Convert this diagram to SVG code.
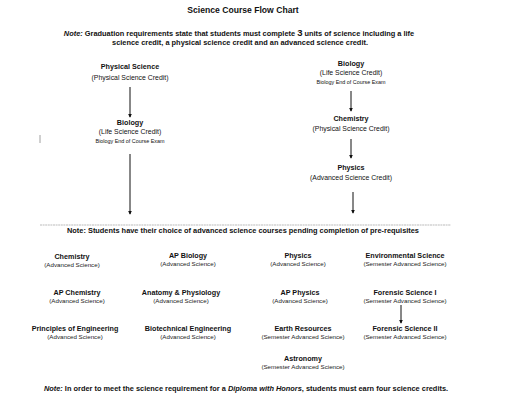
<svg xmlns="http://www.w3.org/2000/svg" width="512" height="413" viewBox="0 0 512 413">
<style>
text{font-family:"Liberation Sans",Arial,sans-serif;fill:#111;text-anchor:middle}
.t{font-size:8.6px;font-weight:bold}
.n{font-size:7.4px;font-weight:bold}
.b{font-size:7.2px;font-weight:bold}
.r{font-size:6.9px}
.s{font-size:5.4px}
.a{font-size:6.2px;fill:#222}
.c line{stroke:#111;stroke-width:1;marker-end:url(#ah)}
</style>
<defs>
<marker id="ah" viewBox="0 0 6 6" refX="5" refY="3" markerWidth="4" markerHeight="4" orient="auto" markerUnits="userSpaceOnUse"><path d="M0,0L6,3L0,6z" fill="#111"/></marker>
</defs>
<rect width="512" height="413" fill="#fff"/>
<text class="t" x="243" y="13">Science Course Flow Chart</text>
<text class="n" x="239" y="36"><tspan font-style="italic">Note:</tspan> Graduation requirements state that students must complete <tspan font-size="9.5px">3</tspan> units of science including a life</text>
<text class="n" x="240" y="45">science credit, a physical science credit and an advanced science credit.</text>

<g id="n-physci"><text class="b" x="130" y="69">Physical Science</text><text class="r" x="130" y="80">(Physical Science Credit)</text></g>
<g id="n-bio-l"><text class="b" x="130" y="125">Biology</text><text class="r" x="130" y="134">(Life Science Credit)</text><text class="s" x="130" y="143">Biology End of Course Exam</text></g>
<g id="n-bio-r"><text class="b" x="351" y="66">Biology</text><text class="r" x="351" y="75">(Life Science Credit)</text><text class="s" x="351" y="84">Biology End of Course Exam</text></g>
<g id="n-chem"><text class="b" x="351" y="121">Chemistry</text><text class="r" x="351" y="131">(Physical Science Credit)</text></g>
<g id="n-phys"><text class="b" x="351" y="170">Physics</text><text class="r" x="351" y="180">(Advanced Science Credit)</text></g>

<line x1="40" y1="135" x2="40" y2="143" stroke="#888" stroke-width="0.8"/>
<line x1="40" y1="225" x2="451" y2="225" stroke="#bbb" stroke-width="1" stroke-dasharray="2,0.6"/>
<text class="n" x="243" y="233">Note: Students have their choice of advanced science courses pending completion of pre-requisites</text>

<g id="n-chem2"><text class="b" x="72" y="259">Chemistry</text><text class="a" x="72" y="267">(Advanced Science)</text></g>
<g id="n-apbio"><text class="b" x="188" y="258">AP Biology</text><text class="a" x="188" y="266">(Advanced Science)</text></g>
<g id="n-phys2"><text class="b" x="298" y="258">Physics</text><text class="a" x="298" y="266">(Advanced Science)</text></g>
<g id="n-env"><text class="b" x="405" y="258">Environmental Science</text><text class="a" x="405" y="266">(Semester Advanced Science)</text></g>

<g id="n-apchem"><text class="b" x="77" y="295">AP Chemistry</text><text class="a" x="77" y="303">(Advanced Science)</text></g>
<g id="n-anat"><text class="b" x="181" y="295">Anatomy &amp; Physiology</text><text class="a" x="181" y="303">(Advanced Science)</text></g>
<g id="n-apphys"><text class="b" x="300" y="295">AP Physics</text><text class="a" x="300" y="303">(Advanced Science)</text></g>
<g id="n-for1"><text class="b" x="405" y="295">Forensic Science I</text><text class="a" x="405" y="303">(Semester Advanced Science)</text></g>

<g id="n-poe"><text class="b" x="75" y="331">Principles of Engineering</text><text class="a" x="75" y="339">(Advanced Science)</text></g>
<g id="n-biotech"><text class="b" x="188" y="331">Biotechnical Engineering</text><text class="a" x="188" y="339">(Advanced Science)</text></g>
<g id="n-earth"><text class="b" x="303" y="331">Earth Resources</text><text class="a" x="303" y="339">(Semester Advanced Science)</text></g>
<g id="n-for2"><text class="b" x="405" y="331">Forensic Science II</text><text class="a" x="405" y="339">(Semester Advanced Science)</text></g>

<g id="n-astro"><text class="b" x="303" y="361">Astronomy</text><text class="a" x="303" y="369">(Semester Advanced Science)</text></g>

<text class="n" x="246" y="391"><tspan font-style="italic">Note:</tspan>  In order to meet the science requirement for a <tspan font-style="italic">Diploma with Honors</tspan>, students must earn four science credits.</text>

<g class="c" id="connectors">
<line x1="130" y1="87" x2="130" y2="117"/>
<line x1="130" y1="154" x2="130" y2="214"/>
<line x1="351" y1="91" x2="351" y2="111"/>
<line x1="351" y1="139" x2="351" y2="158"/>
<line x1="353" y1="192" x2="353" y2="213"/>
<line x1="401" y1="305" x2="401" y2="323"/>
</g>
</svg>
